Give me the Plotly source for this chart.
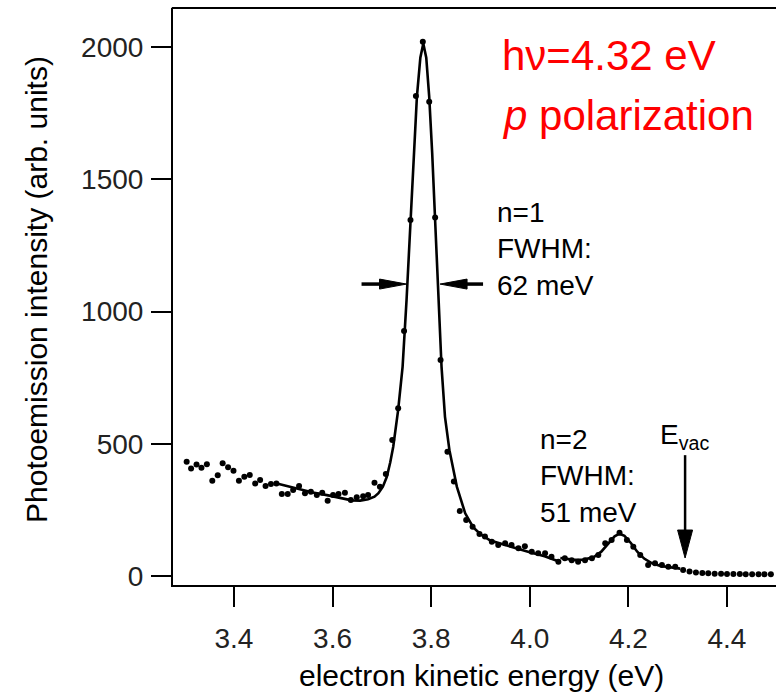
import plotly.graph_objects as go

# ---------------- data ----------------
energy = [3.304, 3.313, 3.324, 3.334, 3.345, 3.356, 3.367, 3.377, 3.388, 3.399,
          3.410, 3.421, 3.432, 3.443, 3.453, 3.464, 3.475, 3.486, 3.497, 3.509,
          3.520, 3.532, 3.544, 3.556, 3.568, 3.579, 3.590, 3.601, 3.612, 3.625,
          3.637, 3.649, 3.662, 3.672, 3.685, 3.696, 3.708, 3.721, 3.733, 3.745,
          3.758, 3.769, 3.783, 3.796, 3.808, 3.819, 3.833, 3.846, 3.858, 3.871,
          3.884, 3.898, 3.909, 3.923, 3.936, 3.950, 3.963, 3.977, 3.990, 4.004,
          4.017, 4.031, 4.044, 4.058, 4.071, 4.085, 4.098, 4.112, 4.126, 4.139,
          4.153, 4.166, 4.182, 4.197, 4.210, 4.224, 4.240, 4.254, 4.268, 4.281,
          4.295, 4.311, 4.324, 4.337, 4.350, 4.362, 4.375, 4.388, 4.400, 4.413,
          4.426, 4.438, 4.451, 4.464, 4.476, 4.489]
intensity = [432, 407, 422, 409, 423, 360, 381, 426, 411, 398,
             360, 375, 382, 350, 363, 340, 348, 350, 310, 310,
             325, 340, 313, 319, 306, 315, 285, 306, 310, 315,
             287, 298, 302, 306, 353, 338, 386, 514, 634, 927,
             1346, 1815, 2020, 1793, 1356, 817, 470, 357, 246, 212,
             186, 159, 149, 130, 117, 124, 117, 105, 113, 92,
             86, 86, 73, 54, 67, 60, 54, 60, 67, 79,
             124, 136, 164, 136, 111, 79, 42, 48, 42, 35,
             35, 23, 17, 13, 11, 10, 9, 9, 8, 8,
             8, 7, 7, 7, 7, 7]

fit1_energy = [3.487, 3.524, 3.560, 3.591, 3.620, 3.639, 3.656, 3.672, 3.685, 3.693,
               3.702, 3.710, 3.717, 3.723, 3.733, 3.742, 3.750, 3.758, 3.765, 3.771,
               3.778, 3.784, 3.790, 3.796, 3.802, 3.808, 3.816, 3.821, 3.828, 3.837,
               3.852, 3.869, 3.885, 3.900, 3.920, 3.960, 4.000, 4.030, 4.055]
fit1_intensity = [350, 332, 316, 305, 293, 286, 285, 290, 300, 313,
                  338, 375, 430, 489, 628, 791, 1043, 1346, 1620, 1812,
                  1960, 2014, 1960, 1812, 1600, 1346, 1043, 791, 602, 476,
                  338, 237, 185, 158, 134, 111, 90, 75, 58]

fit2_energy = [4.062, 4.090, 4.110, 4.130, 4.145, 4.160, 4.172, 4.182, 4.192, 4.205,
               4.218, 4.232, 4.248, 4.265, 4.285, 4.305]
fit2_intensity = [68, 61, 62, 72, 92, 125, 150, 160, 152, 125,
                  92, 66, 48, 38, 32, 28]

x_ticks = [3.4, 3.6, 3.8, 4.0, 4.2, 4.4]
x_tick_labels = ["3.4", "3.6", "3.8", "4.0", "4.2", "4.4"]
y_ticks = [0, 500, 1000, 1500, 2000]
y_tick_labels = ["0", "500", "1000", "1500", "2000"]

# annotation anchor points (data coordinates)
fwhm1_left_tip = (3.750, 1104)
fwhm1_right_tip = (3.818, 1104)
evac_energy = 4.315
evac_tip_intensity = 68
evac_tail_intensity = 457

# ---------------- layout geometry ----------------
W, H = 776, 694
ML, MR, MT, MB = 173, 0, 8, 109
XR = [3.2763, 4.4994]
YR = [-34, 2148]
PW = W - ML - MR
PH = H - MT - MB
SX = PW / (XR[1] - XR[0])   # px per eV
SY = PH / (YR[1] - YR[0])   # px per intensity unit

FONT = "Liberation Sans, Arial, Helvetica, sans-serif"

fig = go.Figure()
fig.add_trace(go.Scatter(x=fit1_energy, y=fit1_intensity, mode="lines",
                         line=dict(color="black", width=2.6), hoverinfo="skip",
                         showlegend=False))
fig.add_trace(go.Scatter(x=fit2_energy, y=fit2_intensity, mode="lines",
                         line=dict(color="black", width=2.6), hoverinfo="skip",
                         showlegend=False))
fig.add_trace(go.Scatter(x=energy, y=intensity, mode="markers",
                         marker=dict(color="black", size=6), showlegend=False))

shapes = []


def h_arrow(tip, direction, length_px, head_len=27, head_w=10, lw=3.5):
    x, y = tip
    s = 1 if direction == "right" else -1
    xb = x - s * head_len / SX
    xt = x - s * length_px / SX
    shapes.append(dict(type="line", xref="x", yref="y", x0=xt, y0=y,
                       x1=x - s * (head_len - 4) / SX, y1=y,
                       line=dict(color="black", width=lw)))
    dy = head_w / 2 / SY
    shapes.append(dict(type="path", xref="x", yref="y",
                       path=f"M {x},{y} L {xb},{y + dy} L {xb},{y - dy} Z",
                       fillcolor="black", line=dict(color="black", width=1)))


def v_arrow(x, y_tip, y_tail, head_len=28, head_w=15, lw=2.5):
    yb = y_tip + head_len / SY
    shapes.append(dict(type="line", xref="x", yref="y", x0=x, y0=y_tail, x1=x, y1=yb - 3 / SY,
                       line=dict(color="black", width=lw)))
    dx = head_w / 2 / SX
    shapes.append(dict(type="path", xref="x", yref="y",
                       path=f"M {x},{y_tip} L {x - dx},{yb} L {x + dx},{yb} Z",
                       fillcolor="black", line=dict(color="black", width=1)))


h_arrow(fwhm1_left_tip, "right", 45)
h_arrow(fwhm1_right_tip, "left", 43)
v_arrow(evac_energy, evac_tip_intensity, evac_tail_intensity)

# top frame line
shapes.append(dict(type="line", xref="paper", yref="paper", x0=-0.002, x1=1, y0=1, y1=1,
                   line=dict(color="black", width=2)))


def px_x(px):
    return (px - ML) / PW


def px_y(py):
    return (H - MB - py) / PH


annotations = [
    dict(text="hν=4.32 eV", x=px_x(500), y=px_y(56), xref="paper", yref="paper",
         xanchor="left", yanchor="middle", showarrow=False,
         font=dict(family=FONT, size=42, color="red")),
    dict(text="<i>p</i> polarization", x=px_x(500), y=px_y(116), xref="paper", yref="paper",
         xanchor="left", yanchor="middle", showarrow=False,
         font=dict(family=FONT, size=42, color="red")),
    dict(text="n=1<br>FWHM:<br>62 meV", x=px_x(495), y=px_y(249), xref="paper", yref="paper",
         xanchor="left", yanchor="middle", align="left", showarrow=False,
         font=dict(family=FONT, size=28, color="black")),
    dict(text="n=2<br>FWHM:<br>51 meV", x=px_x(538), y=px_y(476), xref="paper", yref="paper",
         xanchor="left", yanchor="middle", align="left", showarrow=False,
         font=dict(family=FONT, size=28, color="black")),
    dict(text="E<sub>vac</sub>", x=px_x(658), y=px_y(437), xref="paper", yref="paper",
         xanchor="left", yanchor="middle", showarrow=False,
         font=dict(family=FONT, size=28, color="black")),
    dict(text="electron kinetic energy (eV)", x=px_x(481), y=px_y(675), xref="paper",
         yref="paper", xanchor="center", yanchor="middle", showarrow=False,
         font=dict(family=FONT, size=30, color="black")),
    dict(text="Photoemission intensity (arb. units)", x=px_x(36), y=px_y(290), xref="paper",
         yref="paper", xanchor="center", yanchor="middle", textangle=-90, showarrow=False,
         font=dict(family=FONT, size=30, color="black")),
]

fig.update_layout(
    width=W, height=H,
    margin=dict(l=ML, r=MR, t=MT, b=MB, pad=0),
    paper_bgcolor="white", plot_bgcolor="white",
    shapes=shapes, annotations=annotations,
    font=dict(family=FONT, size=28, color="black"),
    xaxis=dict(range=XR, tickvals=x_ticks, ticktext=x_tick_labels, ticks="outside",
               ticklen=20, tickwidth=2, tickcolor="black", showline=True, linecolor="black",
               linewidth=2, showgrid=False, zeroline=False, ticklabelstandoff=7,
               tickfont=dict(family=FONT, size=28, color="#222")),
    yaxis=dict(range=YR, tickvals=y_ticks, ticktext=y_tick_labels, ticks="outside",
               ticklen=20, tickwidth=2, tickcolor="black", showline=True, linecolor="black",
               linewidth=2, showgrid=False, zeroline=False, ticklabelstandoff=2,
               tickfont=dict(family=FONT, size=28, color="#222")),
)

fig.write_html("out.html", config={"displayModeBar": False},
               post_script="document.body.style.margin='0';document.body.style.overflow='hidden';")
